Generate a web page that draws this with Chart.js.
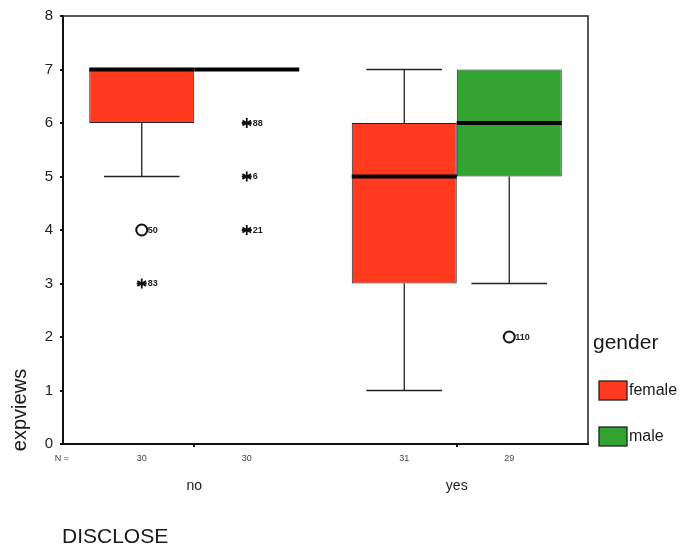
<!DOCTYPE html>
<html>
<head>
<meta charset="utf-8">
<title>expviews by DISCLOSE and gender</title>
<script src="https://cdn.jsdelivr.net/npm/chart.js@4"></script>
<style>
  html, body { margin: 0; padding: 0; background: #fff; }
  #wrap { width: 681px; height: 548px; }
</style>
</head>
<body>
<div id="wrap"><canvas id="boxChart" width="681" height="548"></canvas></div>
<script>
// categories and groups
const categories = ['no', 'yes'];
const groups = ['female', 'male'];
const yTicks = [0, 1, 2, 3, 4, 5, 6, 7, 8];

// box plot summaries per category (no, yes)
const femaleMin = [5, 1];
const femaleQ1 = [6, 3];
const femaleMedian = [7, 5];
const femaleQ3 = [7, 6];
const femaleMax = [7, 7];
const femaleN = [30, 31];

const maleMin = [7, 3];
const maleQ1 = [7, 5];
const maleMedian = [7, 6];
const maleQ3 = [7, 7];
const maleMax = [7, 7];
const maleN = [30, 29];

// outliers: value, case id, kind ('o' = outlier, '*' = extreme)
const femaleOutlierValues = [[4, 3], []];
const femaleOutlierIds = [['50', '83'], []];
const femaleOutlierKinds = [['o', '*'], []];
const maleOutlierValues = [[6, 5, 4], [2]];
const maleOutlierIds = [['88', '6', '21'], ['110']];
const maleOutlierKinds = [['*', '*', '*'], ['o']];

const stats = [
    { min: femaleMin, q1: femaleQ1, med: femaleMedian, q3: femaleQ3, max: femaleMax, n: femaleN,
      ov: femaleOutlierValues, oid: femaleOutlierIds, ok: femaleOutlierKinds },
    { min: maleMin, q1: maleQ1, med: maleMedian, q3: maleQ3, max: maleMax, n: maleN,
      ov: maleOutlierValues, oid: maleOutlierIds, ok: maleOutlierKinds }
];

const FONT = '"Liberation Sans", Arial, sans-serif';
const colors = ['#ff3a1f', '#33a332'];

function drawStar(ctx, x, y, r) {
    ctx.beginPath();
    for (let i = 0; i < 3; i++) {
        const a = Math.PI / 2 + i * Math.PI / 3;
        ctx.moveTo(x - r * Math.cos(a), y - r * Math.sin(a));
        ctx.lineTo(x + r * Math.cos(a), y + r * Math.sin(a));
    }
    ctx.moveTo(x - r, y);
    ctx.lineTo(x + r, y);
    ctx.stroke();
}

// whiskers, medians, outliers, frame and extra texts
const boxPlotPlugin = {
    id: 'boxPlot',
    afterDatasetsDraw(chart) {
        const ctx = chart.ctx;
        const y = chart.scales.y;
        const area = chart.chartArea;
        ctx.save();
        stats.forEach((s, di) => {
            const meta = chart.getDatasetMeta(di);
            meta.data.forEach((bar, i) => {
                const cx = bar.x;
                const w = bar.width;
                const yMin = y.getPixelForValue(s.min[i]);
                const yMax = y.getPixelForValue(s.max[i]);
                const yQ1 = y.getPixelForValue(s.q1[i]);
                const yQ3 = y.getPixelForValue(s.q3[i]);
                const yMed = y.getPixelForValue(s.med[i]);
                ctx.strokeStyle = '#222';
                ctx.lineWidth = 1.3;
                ctx.beginPath();
                if (s.min[i] < s.q1[i]) {
                    ctx.moveTo(cx, yQ1); ctx.lineTo(cx, yMin);
                    ctx.moveTo(cx - w * 0.36, yMin); ctx.lineTo(cx + w * 0.36, yMin);
                }
                if (s.max[i] > s.q3[i]) {
                    ctx.moveTo(cx, yQ3); ctx.lineTo(cx, yMax);
                    ctx.moveTo(cx - w * 0.36, yMax); ctx.lineTo(cx + w * 0.36, yMax);
                }
                ctx.stroke();
                // median
                ctx.strokeStyle = '#000';
                ctx.lineWidth = 4;
                ctx.beginPath();
                ctx.moveTo(cx - w / 2, yMed); ctx.lineTo(cx + w / 2, yMed);
                ctx.stroke();
                // outliers
                s.ov[i].forEach((v, k) => {
                    const py = y.getPixelForValue(v);
                    ctx.strokeStyle = '#111';
                    if (s.ok[i][k] === 'o') {
                        ctx.lineWidth = 2;
                        ctx.beginPath();
                        ctx.arc(cx, py, 5.5, 0, Math.PI * 2);
                        ctx.stroke();
                    } else {
                        ctx.lineWidth = 1.8;
                        drawStar(ctx, cx, py, 5);
                    }
                    ctx.fillStyle = '#222';
                    ctx.font = 'bold 9px ' + FONT;
                    ctx.textAlign = 'left';
                    ctx.textBaseline = 'middle';
                    ctx.fillText(s.oid[i][k], cx + 6, py + 0.5);
                });
                // N counts
                ctx.fillStyle = '#444';
                ctx.font = '9px ' + FONT;
                ctx.textAlign = 'center';
                ctx.textBaseline = 'middle';
                ctx.fillText(String(s.n[i]), cx, area.bottom + 15);
            });
        });
        // top and right frame
        ctx.strokeStyle = '#222';
        ctx.lineWidth = 1.5;
        ctx.beginPath();
        ctx.moveTo(area.left, area.top);
        ctx.lineTo(area.right, area.top);
        ctx.lineTo(area.right, area.bottom);
        ctx.stroke();

        ctx.fillStyle = '#444';
        ctx.font = '9px ' + FONT;
        ctx.textAlign = 'center';
        ctx.fillText('N =', area.left - 1, area.bottom + 15);

        // y title
        ctx.fillStyle = '#1a1a1a';
        ctx.font = '20px ' + FONT;
        ctx.save();
        ctx.translate(20, 410);
        ctx.rotate(-Math.PI / 2);
        ctx.textAlign = 'center';
        ctx.textBaseline = 'middle';
        ctx.fillText('expviews', 0, 0);
        ctx.restore();

        // x title
        ctx.font = '21px ' + FONT;
        ctx.textAlign = 'left';
        ctx.textBaseline = 'middle';
        ctx.fillText('DISCLOSE', 62, 537);

        // legend
        ctx.font = '21px ' + FONT;
        ctx.fillText('gender', 593, 343);
        groups.forEach((g, i) => {
            const ly = 381 + i * 46;
            ctx.fillStyle = colors[i];
            ctx.fillRect(599, ly, 28, 19);
            ctx.strokeStyle = '#222';
            ctx.lineWidth = 1.3;
            ctx.strokeRect(599, ly, 28, 19);
            ctx.fillStyle = '#1a1a1a';
            ctx.font = '16px ' + FONT;
            ctx.fillText(g, 629, ly + 10);
        });
        ctx.restore();
    }
};

const boxChart = new Chart(document.getElementById('boxChart'), {
    type: 'bar',
    data: {
        labels: categories,
        datasets: stats.map((s, i) => ({
            label: groups[i],
            data: s.q1.map((q, k) => [q, s.q3[k]]),
            backgroundColor: colors[i],
            borderColor: '#222',
            borderWidth: 1,
            borderSkipped: false,
            categoryPercentage: 0.8,
            barPercentage: 1.0
        }))
    },
    options: {
        responsive: false,
        animation: false,
        layout: { padding: { top: 15, right: 93, left: 0, bottom: 0 } },
        plugins: {
            legend: { display: false },
            tooltip: { enabled: false }
        },
        scales: {
            x: {
                afterFit: (scale) => { scale.height = 104; },
                grid: { offset: false, drawOnChartArea: false, tickLength: 3, lineWidth: 2, color: '#111' },
                border: { display: true, color: '#111', width: 2 },
                ticks: { padding: 31, color: '#222', font: { family: FONT, size: 14 } }
            },
            y: {
                min: 0,
                max: 8,
                afterFit: (scale) => { scale.width = 63; },
                afterBuildTicks: (scale) => { scale.ticks = yTicks.map(v => ({ value: v })); },
                grid: { drawOnChartArea: false, tickLength: 3, lineWidth: 2, color: '#111' },
                border: { display: true, color: '#111', width: 2 },
                ticks: { padding: 7, color: '#222', font: { family: FONT, size: 15 } }
            }
        }
    },
    plugins: [boxPlotPlugin]
});
</script>
</body>
</html>
